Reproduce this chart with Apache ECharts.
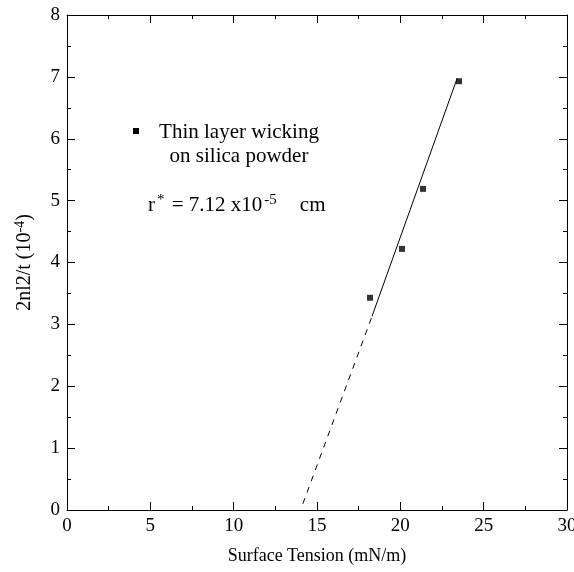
<!DOCTYPE html>
<html>
<head>
<meta charset="utf-8">
<script src="https://cdn.jsdelivr.net/npm/echarts@6/dist/echarts.min.js"></script>
<style>
  html, body { margin: 0; padding: 0; background: #fff; }
  #chart { width: 574px; height: 572px; }
</style>
</head>
<body>
<div id="chart"></div>
<script>
// measured points (surface tension vs 2nl2/t)
var tension = [18.18, 20.1, 21.36, 23.52];
var wicking = [3.43, 4.22, 5.19, 6.93];
// fitted line, solid part and dashed extrapolation
var fitX = [18.3, 23.4];
var fitY = [3.13, 6.97];
var extX = [14.15, 18.3];
var extY = [0.1, 3.13];

var serif = 'Liberation Serif';

function pairs(xs, ys) {
  return xs.map(function (x, i) { return [x, ys[i]]; });
}

function valueAxis(pos, min, max, step, showLabel) {
  return {
    type: 'value',
    position: pos,
    min: min,
    max: max,
    interval: step,
    axisLine: { show: true, onZero: false, lineStyle: { color: '#000', width: 1 } },
    axisTick: { show: true, inside: true, length: 8, lineStyle: { color: '#000' } },
    minorTick: { show: true, splitNumber: 2, length: 4, lineStyle: { color: '#000' } },
    splitLine: { show: false },
    axisLabel: { show: showLabel, color: '#000', fontFamily: serif, fontSize: 19, margin: 7 }
  };
}

var chart = echarts.init(document.getElementById('chart'));

var xBottom = valueAxis('bottom', 0, 30, 5, true);
xBottom.name = 'Surface Tension (mN/m)';
xBottom.nameLocation = 'middle';
xBottom.nameGap = 37;
xBottom.nameTextStyle = { color: '#000', fontFamily: serif, fontSize: 18 };

var yLeft = valueAxis('left', 0, 8, 1, true);
yLeft.name = '2nl2/t (10{s|-4})';
yLeft.nameLocation = 'middle';
yLeft.nameGap = 31;
yLeft.nameTextStyle = {
  color: '#000', fontFamily: serif, fontSize: 20,
  rich: { s: { fontFamily: serif, fontSize: 14, verticalAlign: 'top', padding: [0, 0, 9, 0], color: '#000' } }
};

chart.setOption({
  animation: false,
  backgroundColor: '#fff',
  grid: { left: 67, right: 7, top: 15, bottom: 62, outerBoundsMode: 'none', containLabel: false },
  xAxis: [xBottom, valueAxis('top', 0, 30, 5, false)],
  yAxis: [yLeft, valueAxis('right', 0, 8, 1, false)],
  graphic: [
    {
      type: 'rect',
      shape: { x: 133, y: 128, width: 6, height: 6 },
      style: { fill: '#000' }
    },
    {
      type: 'text',
      x: 239, y: 120,
      style: {
        text: 'Thin layer wicking\non silica powder',
        font: '21px "Liberation Serif"',
        fill: '#000',
        align: 'center',
        verticalAlign: 'top',
        lineHeight: 24
      }
    },
    {
      type: 'text',
      x: 148, y: 193,
      style: {
        text: 'r{s|*} = 7.12 x10{s|-5}    cm',
        font: '21px "Liberation Serif"',
        fill: '#000',
        rich: {
          s: { fontFamily: serif, fontSize: 15, verticalAlign: 'top', padding: [0, 2, 9, 2], fill: '#000' }
        }
      }
    }
  ],
  series: [
    {
      type: 'line',
      data: pairs(extX, extY),
      symbol: 'none',
      lineStyle: { color: '#000', width: 1, type: [6, 6] },
      silent: true
    },
    {
      type: 'line',
      data: pairs(fitX, fitY),
      symbol: 'none',
      lineStyle: { color: '#000', width: 1 },
      silent: true
    },
    {
      type: 'scatter',
      name: 'Thin layer wicking on silica powder',
      data: pairs(tension, wicking),
      symbol: 'rect',
      symbolSize: 6,
      itemStyle: { color: '#000' }
    }
  ]
});
</script>
</body>
</html>
